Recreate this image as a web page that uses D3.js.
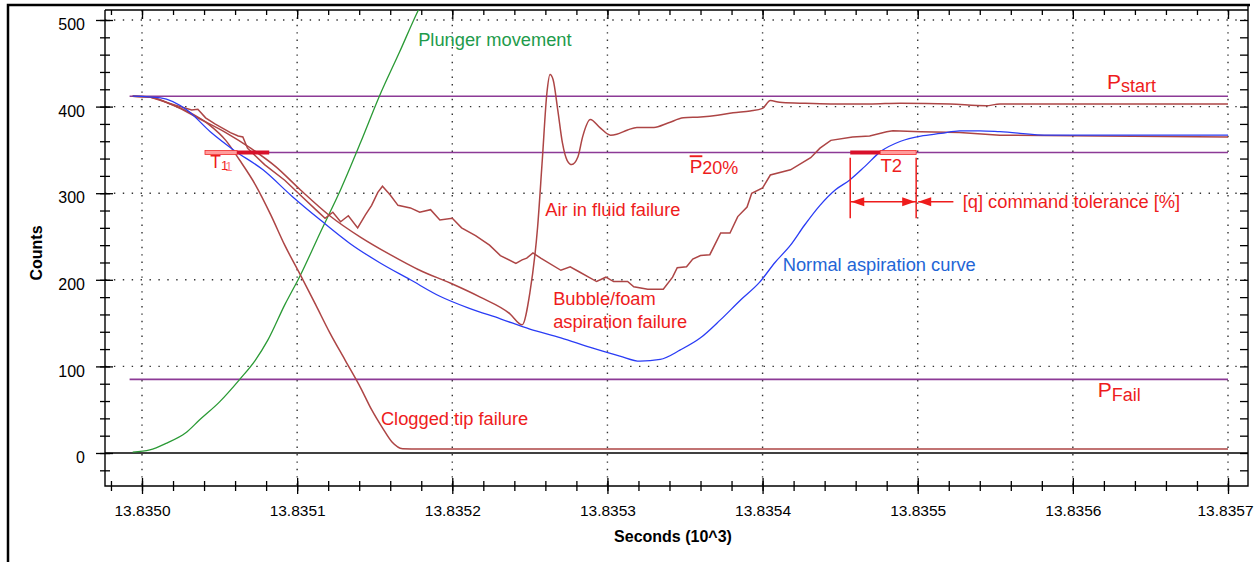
<!DOCTYPE html>
<html>
<head>
<meta charset="utf-8">
<script src="https://cdn.jsdelivr.net/npm/d3@7"></script>
<style>
body { margin: 0; background: #fff; }
text { font-family: "Liberation Sans", Arial, sans-serif; }
</style>
</head>
<body>
<script>
// time is ms after 13835.000 s, so 100 ms = 0.0001 on the (10^3) axis
const timeTicks = [0, 100, 200, 300, 400, 500, 600, 700];
const timeMinor = d3.range(-20, 701, 20);
const countTicks = [0, 100, 200, 300, 400, 500];
const countMinor = d3.range(-20, 501, 20);
const countGrid = [100, 200, 300, 400, 500];

// [ms, counts]
const normalCurve = [[-6,412],[12,410],[29,396],[44,371],[59,350],[78,327],[97,296],[115,269],[134,242],[153,220],[173,200],[192,181],[211,167],[231,155],[250,143],[270,133],[289,122],[308,112],[321,106],[334,108],[347,119],[360,133],[373,154],[386,177],[398,197],[408,220],[418,240],[427,263],[437,286],[447,304],[456,315],[466,331],[476,348],[489,360],[502,366],[515,369],[527,372],[540,372],[553,371],[585,367],[618,367],[700,367]];
const plunger = [[-6,1],[5,3.5],[16,11.5],[28,23],[37,38],[50,59],[63,85],[73,107],[81,130],[92,171],[102,205],[115,255],[128,304],[141,359],[153,412],[166,463],[178,511],[183,529]];
const clogged = [[-6,412],[5,411],[18,403],[31,393],[44,378],[54,361],[63,338],[73,310],[83,275],[92,240],[102,206],[112,171],[121,139],[131,107],[141,75],[148,50],[155,29],[161,13],[168,5],[179,4.5],[700,4.5]];
const airInFluid = [[-6,412],[5,411],[21,401],[37,386],[54,370],[70,352],[86,331],[102,304],[121,274],[141,249],[160,229],[179,211],[199,196],[218,180],[237,161],[245,148],[250,185],[255,261],[258,338],[261,416],[263,437],[265,431],[268,396],[271,358],[274,338],[277,333],[281,342],[284,365],[289,385],[295,376],[302,367],[306,368],[313,373],[319,376],[330,376],[339,381],[349,387],[360,388],[371,390],[381,393],[392,395],[400,398],[405,407],[411,405],[424,404],[444,403],[469,403],[489,404],[521,403],[544,401],[553,403],[618,403],[700,403]];
const bubbleFoam = [[-6,412],[5,411],[21,402],[32,396],[36,397],[41,387],[47,380],[57,370],[62,366],[65,365],[68,352],[79,333],[92,315],[102,298],[112,281],[118,271],[123,278],[128,267],[133,274],[139,260],[144,275],[148,286],[152,301],[155,308],[160,298],[165,286],[173,283],[179,278],[186,281],[192,269],[200,271],[206,260],[215,251],[224,240],[231,228],[241,219],[245,223],[248,225],[252,231],[257,225],[270,211],[276,215],[282,209],[293,198],[299,203],[304,198],[313,198],[317,192],[326,189],[336,189],[342,203],[345,214],[351,215],[355,224],[360,228],[366,229],[373,254],[379,254],[384,273],[390,284],[393,300],[400,306],[405,321],[418,327],[431,341],[437,352],[444,361],[458,365],[469,366],[480,371],[484,372],[502,371],[527,370],[553,367],[618,366],[700,365]];

// reference levels [counts, from ms]
const pStart = [412, -8];
const p20 = [347, 40.6];
const pFail = [85, -8];
const t1Bar = [40.6, 61.3, 82];
const t2Bar = [456.5, 475.8, 499];
const tolerance = { from: 456.5, to: 499, top: 341, bottom: 271, level: 290, pointer: 523 };

const plotLeft = 105, plotRight = 1248, plotTop = 10, plotBottom = 486;

const x = d3.scaleLinear().domain([0, 700]).range([142, 1228]);
const y = d3.scaleLinear().domain([0, 500]).range([453, 20]);

const red = '#ee1c1c';
const purple = '#8c3a96';
const brown = '#ad4545';

const svg = d3.select('body').append('svg')
.attr('width', 1255)
.attr('height', 562)

svg.append('defs').append('clipPath').attr('id', 'plot')
.append('rect')
.attr('x', plotLeft).attr('y', plotTop)
.attr('width', plotRight - plotLeft).attr('height', plotBottom - plotTop)

// outer frame
svg.append('path')
.attr('d', 'M8,562V5H1250')
.attr('fill', 'none').attr('stroke', '#000').attr('stroke-width', 2.5)

// dotted grid
svg.append('g').selectAll('line')
.data(timeTicks).enter().append('line')
.attr('x1', (d) => x(d)).attr('x2', (d) => x(d))
.attr('y1', plotTop).attr('y2', plotBottom)
.attr('stroke', '#333').attr('stroke-width', 1.4).attr('stroke-dasharray', '1.4,6')

svg.append('g').selectAll('line')
.data(countGrid).enter().append('line')
.attr('x1', plotLeft).attr('x2', plotRight)
.attr('y1', (d) => y(d)).attr('y2', (d) => y(d))
.attr('stroke', '#333').attr('stroke-width', 1.4).attr('stroke-dasharray', '1.4,7.5')

svg.append('line')
.attr('x1', plotLeft).attr('x2', plotRight)
.attr('y1', y(0)).attr('y2', y(0))
.attr('stroke', '#000').attr('stroke-width', 1.3)

// axes
const leftAxis = svg.append('g')
.attr('transform', `translate(${plotLeft},0)`)
.call(d3.axisLeft(y).tickValues(countMinor).tickSize(5).tickFormat(''))
leftAxis.selectAll('.tick line').attr('x1', 5)
leftAxis.select('.domain').remove()

const leftMajor = svg.append('g')
.attr('transform', `translate(${plotLeft},0)`)
.call(d3.axisLeft(y).tickValues(countTicks).tickSize(9).tickPadding(11))
leftMajor.selectAll('.tick line').attr('x1', 8)
leftMajor.selectAll('text').attr('font-size', 16).attr('dy', '0.6em').style('font-family', '"Liberation Sans", Arial, sans-serif')
leftMajor.select('.domain').remove()

const rightAxis = svg.append('g')
.attr('transform', `translate(${plotRight},0)`)
.call(d3.axisLeft(y).tickValues(countMinor).tickSize(8).tickFormat(''))
rightAxis.select('.domain').remove()

const bottomMinor = svg.append('g')
.attr('transform', `translate(0,${plotBottom})`)
.call(d3.axisBottom(x).tickValues(timeMinor).tickSize(5).tickFormat(''))
bottomMinor.selectAll('.tick line').attr('y1', -5)
bottomMinor.select('.domain').remove()

const bottomMajor = svg.append('g')
.attr('transform', `translate(0,${plotBottom})`)
.call(d3.axisBottom(x).tickValues(timeTicks).tickSize(8).tickPadding(11)
    .tickFormat((d) => (13.835 + d / 1e6).toFixed(4)))
bottomMajor.selectAll('.tick line').attr('y1', -8)
bottomMajor.selectAll('text').attr('font-size', 15.5).style('font-family', '"Liberation Sans", Arial, sans-serif')
// the last label sits against the window edge
bottomMajor.selectAll('text').filter((d) => d === 700)
.attr('text-anchor', 'end').attr('x', 25)
bottomMajor.select('.domain').remove()

const topAxis = svg.append('g')
.attr('transform', `translate(0,${plotTop})`)
.call(d3.axisBottom(x).tickValues(timeMinor).tickSize(5).tickFormat(''))
topAxis.select('.domain').remove()
svg.append('g')
.attr('transform', `translate(0,${plotTop})`)
.call(d3.axisBottom(x).tickValues(timeTicks).tickSize(9).tickFormat(''))
.select('.domain').remove()

svg.selectAll('.tick line').attr('stroke', '#000').attr('stroke-width', 1.3)

svg.append('path')
.attr('d', `M${plotLeft},${plotTop}V${plotBottom}H${plotRight}V5M${plotLeft},${plotTop}H${plotRight}`)
.attr('fill', 'none').attr('stroke', '#000').attr('stroke-width', 1.4)

svg.append('text')
.attr('x', 673).attr('y', 542)
.attr('text-anchor', 'middle').attr('font-size', 16).attr('font-weight', 'bold')
.text('Seconds (10^3)')

svg.append('text')
.attr('transform', 'translate(42,253) rotate(-90)')
.attr('text-anchor', 'middle').attr('font-size', 16).attr('font-weight', 'bold')
.text('Counts')

// curves
const plot = svg.append('g').attr('clip-path', 'url(#plot)')

// reference levels
;[pStart, p20, pFail].forEach((lvl) => {
    plot.append('line')
    .attr('x1', x(lvl[1])).attr('x2', x(700))
    .attr('y1', y(lvl[0])).attr('y2', y(lvl[0]))
    .attr('stroke', purple).attr('stroke-width', 1.6)
})

const smooth = d3.line().x((d) => x(d[0])).y((d) => y(d[1])).curve(d3.curveMonotoneX);
const jagged = d3.line().x((d) => x(d[0])).y((d) => y(d[1]));

plot.append('path').attr('d', smooth(plunger))
.attr('fill', 'none').attr('stroke', '#2a9a35').attr('stroke-width', 1.3)
plot.append('path').attr('d', smooth(clogged))
.attr('fill', 'none').attr('stroke', brown).attr('stroke-width', 1.5)
plot.append('path').attr('d', smooth(airInFluid))
.attr('fill', 'none').attr('stroke', brown).attr('stroke-width', 1.5)
plot.append('path').attr('d', jagged(bubbleFoam))
.attr('fill', 'none').attr('stroke', brown).attr('stroke-width', 1.5)
plot.append('path').attr('d', smooth(normalCurve))
.attr('fill', 'none').attr('stroke', '#2a3cf5').attr('stroke-width', 1.3)

// T bars on the 20% level
const bar = (a, b, light) => {
    svg.append('rect')
    .attr('x', x(a)).attr('y', y(p20[0]) - 2)
    .attr('width', x(b) - x(a)).attr('height', 4)
    .attr('fill', light ? '#ff9c9c' : '#d8102a')
    .attr('stroke', light ? '#ef2a2a' : 'none').attr('stroke-width', 0.8)
}
bar(t1Bar[0], t1Bar[1], true)
bar(t1Bar[1], t1Bar[2], false)
bar(t2Bar[0], t2Bar[1], false)
bar(t2Bar[1], t2Bar[2], true)

// tolerance brackets and arrows
;[tolerance.from, tolerance.to].forEach((t) => {
    svg.append('line')
    .attr('x1', x(t)).attr('x2', x(t))
    .attr('y1', y(tolerance.top)).attr('y2', y(tolerance.bottom))
    .attr('stroke', red).attr('stroke-width', 1.5)
})
const head = (tipX, tipY, dir) => {
    svg.append('path')
    .attr('d', `M${tipX},${tipY}L${tipX + dir * 13},${tipY - 4.5}L${tipX + dir * 13},${tipY + 4.5}Z`)
    .attr('fill', red)
}
const ay = y(tolerance.level);
svg.append('line')
.attr('x1', x(tolerance.from)).attr('x2', x(tolerance.to))
.attr('y1', ay).attr('y2', ay)
.attr('stroke', red).attr('stroke-width', 1.5)
head(x(tolerance.from) + 1, ay, 1)
head(x(tolerance.to) - 1, ay, -1)
svg.append('line')
.attr('x1', x(tolerance.to) + 2).attr('x2', x(tolerance.pointer))
.attr('y1', ay).attr('y2', ay)
.attr('stroke', red).attr('stroke-width', 1.5)
head(x(tolerance.to) + 2, ay, 1)

// labels [text, ms, counts, colour]
const labels = [
    ['Plunger movement', 178, 470, '#1e9b4b'],
    ['Air in fluid failure', 260, 274, red],
    ['Bubble/foam', 265, 171, red],
    ['aspiration failure', 265, 144, red],
    ['Normal aspiration curve', 413, 210, '#1f66d6'],
    ['Clogged tip failure', 154, 32, red],
    ['[q] command tolerance [%]', 529, 283, red],
];
svg.append('g').selectAll('text')
.data(labels).enter().append('text')
.attr('x', (d) => x(d[1])).attr('y', (d) => y(d[2]))
.attr('font-size', 18.3)
.attr('fill', (d) => d[3])
.text((d) => d[0])

const sub = (t, c, big, small, bigSize, smallSize, dy) => {
    const txt = svg.append('text')
    .attr('x', x(t)).attr('y', y(c)).attr('fill', red)
    txt.append('tspan').attr('font-size', bigSize).text(big)
    txt.append('tspan').attr('font-size', smallSize).attr('dy', dy).text(small)
    return txt
}
sub(622, 420, 'P', 'start', 21, 18, 3)
sub(616, 65, 'P', 'Fail', 21, 18, 4)
sub(476, 324, 'T', '2', 18.5, 18.5, 0)
const t1 = sub(44, 329, 'T', '1', 17.5, 13, 2)
t1.append('tspan').attr('font-size', 13).attr('dx', -2).attr('dy', 1).attr('fill', '#ff7a7a').text('1')
const pbar = svg.append('text')
.attr('x', x(353)).attr('y', y(323)).attr('fill', red)
pbar.append('tspan').attr('font-size', 19).style('text-decoration', 'overline').text('P')
pbar.append('tspan').attr('font-size', 18).attr('dy', 1).text('20%')
</script>
</body>
</html>
